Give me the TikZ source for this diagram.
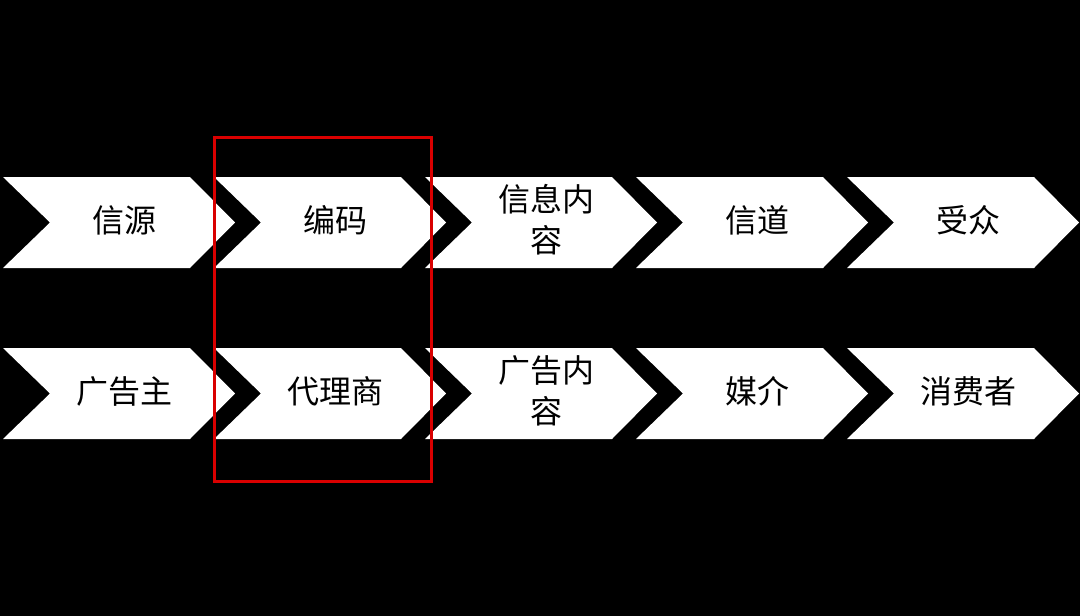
\documentclass[tikz,border=0pt]{standalone}
\usepackage{fontspec}
\newfontfamily\cjk{Noto Sans CJK SC}
\begin{document}
\begin{tikzpicture}[x=1pt,y=-1pt,
  chev/.style={fill=white,draw=none},
  lbl/.style={font=\cjk\fontsize{32}{41}\selectfont,align=center,text=black}]
\fill[black] (0,0) rectangle (1080,616);
\useasboundingbox (0,0) rectangle (1080,616);
\def\pitch{211}
\foreach \r/\yt in {0/177,1/348}{
  \foreach \i in {0,...,4}{
    \pgfmathsetmacro{\xa}{3+\i*\pitch}
    \pgfmathsetmacro{\yb}{\yt+91}
    \pgfmathsetmacro{\ym}{\yt+45.5}
    \fill[white] (\xa,\yt) -- ({\xa+187},\yt) -- ({\xa+232},\ym) -- ({\xa+187},\yb) -- (\xa,\yb) -- ({\xa+47},\ym) -- cycle;
  }
}
\foreach \i/\t/\u in {0/信源/广告主,1/编码/代理商,2/{信息内\\容}/{广告内\\容},3/信道/媒介,4/受众/消费者}{
  \pgfmathsetmacro{\xc}{3+\i*\pitch+121}
  \node[lbl] (a\i) at (\xc,220) {\t};
  \node[lbl] (b\i) at (\xc,391) {\u};
}
\draw[red!85!black,line width=3pt] (214,137) rectangle (431,481);
\end{tikzpicture}
\end{document}
